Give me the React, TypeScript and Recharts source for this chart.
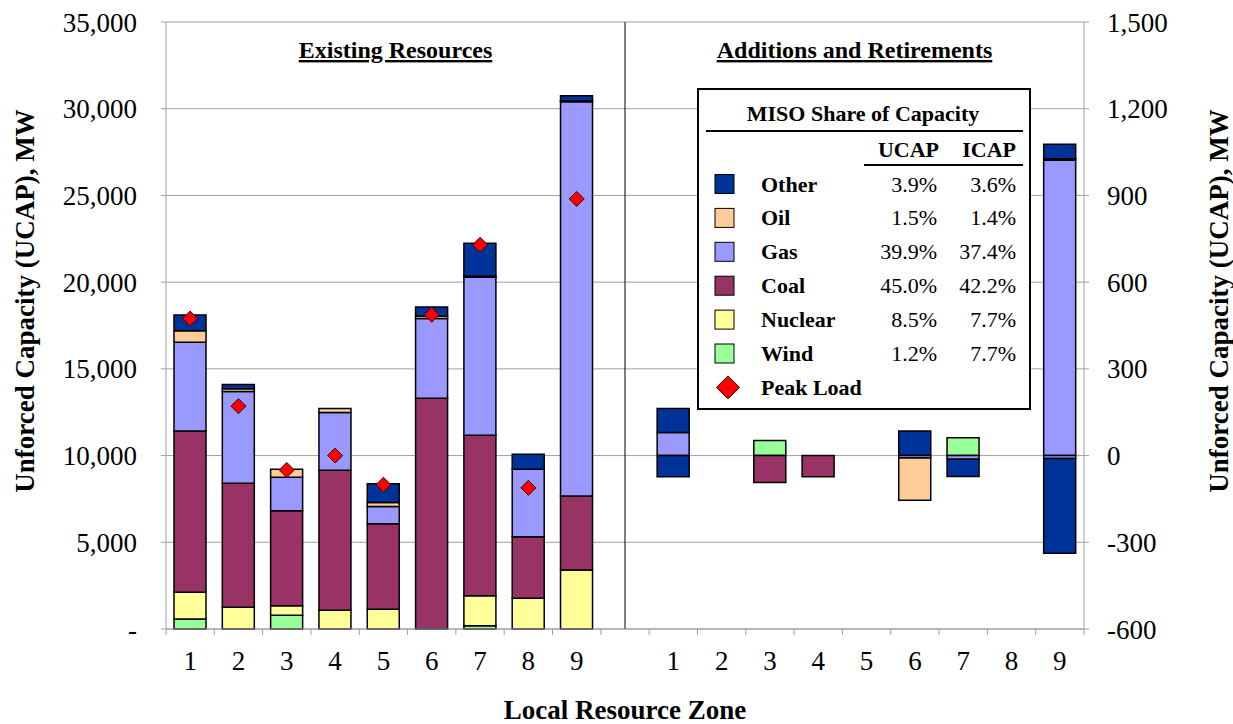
import { ComposedChart, Bar, Line, XAxis, YAxis, CartesianGrid, ReferenceLine, Legend, Label } from 'recharts';

const zoneLabels = ['1', '2', '3', '4', '5', '6', '7', '8', '9'];

// existing resources by zone, MW UCAP (left axis)
const existingWind = [570, 0, 790, 0, 0, 0, 190, 0, 0];
const existingNuclear = [1550, 1250, 550, 1080, 1140, 0, 1730, 1780, 3400];
const existingCoal = [9300, 7150, 5480, 8070, 4930, 13300, 9250, 3540, 4270];
const existingGas = [5110, 5300, 1925, 3340, 1000, 4600, 9110, 3890, 22730];
const existingOil = [670, 150, 465, 230, 230, 150, 60, 0, 60];
const existingOther = [905, 254, 0, 0, 1080, 520, 1900, 870, 290];
const peakLoad = [17900, 12850, 9170, 10000, 8320, 18120, 22150, 8140, 24800];

// additions (+) and retirements (-) by zone, MW (right axis)
const addWind = [0, 0, 52, 0, 0, 0, 62, 0, 0];
const addGas = [80, 0, 0, 0, 0, 0, 0, 0, 1022];
const addOil = [0, 0, 0, 0, 0, 0, 0, 0, 5];
const addOther = [83, 0, 0, 0, 0, 85, 0, 0, 50];
const retCoal = [0, 0, -93, -73, 0, 0, 0, 0, 0];
const retGas = [0, 0, 0, 0, 0, -8, -13, 0, -10];
const retOil = [0, 0, 0, 0, 0, -147, 0, 0, 0];
const retOther = [-73, 0, 0, 0, 0, 0, -59, 0, -328];

const leftTicks = [0, 5000, 10000, 15000, 20000, 25000, 30000, 35000];
const rightTicks = [-600, -300, 0, 300, 600, 900, 1200, 1500];

// legend table
const fuelNames = ['Other', 'Oil', 'Gas', 'Coal', 'Nuclear', 'Wind'];
const ucapShare = ['3.9%', '1.5%', '39.9%', '45.0%', '8.5%', '1.2%'];
const icapShare = ['3.6%', '1.4%', '37.4%', '42.2%', '7.7%', '7.7%'];

const colors: Record<string, string> = {
  Wind: '#99FF99',
  Nuclear: '#FFFF99',
  Coal: '#993366',
  Gas: '#9999FF',
  Oil: '#FFCC99',
  Other: '#003399',
};

const existingSeries = [
  { key: 'wind', fuel: 'Wind', values: existingWind },
  { key: 'nuclear', fuel: 'Nuclear', values: existingNuclear },
  { key: 'coal', fuel: 'Coal', values: existingCoal },
  { key: 'gas', fuel: 'Gas', values: existingGas },
  { key: 'oil', fuel: 'Oil', values: existingOil },
  { key: 'other', fuel: 'Other', values: existingOther },
];

const changeSeries = [
  { key: 'addWind', fuel: 'Wind', values: addWind },
  { key: 'addGas', fuel: 'Gas', values: addGas },
  { key: 'addOil', fuel: 'Oil', values: addOil },
  { key: 'addOther', fuel: 'Other', values: addOther },
  { key: 'retCoal', fuel: 'Coal', values: retCoal },
  { key: 'retGas', fuel: 'Gas', values: retGas },
  { key: 'retOil', fuel: 'Oil', values: retOil },
  { key: 'retOther', fuel: 'Other', values: retOther },
];

function makeRow(key: string, zone: string, ei: number | null, ai: number | null) {
  const row: any = { key, zone, peak: ei === null ? null : peakLoad[ei] };
  existingSeries.forEach((s) => (row[s.key] = ei === null ? 0 : s.values[ei]));
  changeSeries.forEach((s) => (row[s.key] = ai === null ? 0 : s.values[ai]));
  return row;
}

const data = [
  ...zoneLabels.map((z, i) => makeRow('E' + z, z, i, null)),
  makeRow('gap', '', null, null),
  ...zoneLabels.map((z, i) => makeRow('A' + z, z, null, i)),
];

const W = 1233;
const H = 724;
const PLOT_LEFT = 166;
const PLOT_RIGHT = 1084;
const PLOT_TOP = 22;
const PLOT_BOTTOM = 629;
const BAND = (PLOT_RIGHT - PLOT_LEFT) / data.length;
const FONT = '"Liberation Serif", "Times New Roman", serif';
const GRID = '#A0A0A0';

const fmt = (v: number) => v.toLocaleString('en-US');

function ZoneTick(props: any) {
  const { x, y, index } = props;
  const row = data[index];
  return (
    <g>
      <line x1={x - BAND / 2} x2={x - BAND / 2} y1={y - 6} y2={y} stroke={GRID} />
      {index === data.length - 1 && <line x1={x + BAND / 2} x2={x + BAND / 2} y1={y - 6} y2={y} stroke={GRID} />}
      <text x={x} y={y + 35} textAnchor="middle" fontSize={27} fill="#000">
        {row ? row.zone : ''}
      </text>
    </g>
  );
}

function Diamond(props: any) {
  const { cx, cy, index } = props;
  if (cy == null || cx == null) return <g key={index} />;
  const r = 7.5;
  return (
    <polygon
      key={index}
      points={`${cx},${cy - r} ${cx + r},${cy} ${cx},${cy + r} ${cx - r},${cy}`}
      fill="#FF0000"
      stroke="#400000"
      strokeWidth={1}
    />
  );
}

function SectionTitles(props: any) {
  const vb = props.viewBox || {};
  const mid = vb.x ?? 625;
  const top = vb.y ?? PLOT_TOP;
  const style = { fontWeight: 'bold' as const, fontSize: 24, textDecoration: 'underline' };
  return (
    <g>
      <text x={(PLOT_LEFT + mid) / 2} y={top + 36} textAnchor="middle" fill="#000" style={style}>
        Existing Resources
      </text>
      <text x={(mid + PLOT_RIGHT) / 2} y={top + 36} textAnchor="middle" fill="#000" style={style}>
        Additions and Retirements
      </text>
    </g>
  );
}

function axisTitle(x: number) {
  return () => (
    <text
      x={x}
      y={301}
      transform={`rotate(-90, ${x}, 301)`}
      textAnchor="middle"
      fontSize={27}
      fontWeight="bold"
      fill="#000"
    >
      Unforced Capacity (UCAP), MW
    </text>
  );
}

function ShareBox() {
  const rowY = (i: number) => 96 + i * 33.9;
  return (
    <svg width={334} height={322} style={{ fontFamily: FONT, display: 'block' }}>
      <rect x={1} y={1} width={332} height={320} fill="#fff" stroke="#000" strokeWidth={2} />
      <text x={166} y={33} textAnchor="middle" fontSize={22} fontWeight="bold">
        MISO Share of Capacity
      </text>
      <line x1={9} x2={326} y1={43} y2={43} stroke="#000" strokeWidth={2} />
      <text x={242} y={69} textAnchor="end" fontSize={22} fontWeight="bold">UCAP</text>
      <text x={319} y={69} textAnchor="end" fontSize={22} fontWeight="bold">ICAP</text>
      <line x1={167} x2={326} y1={77} y2={77} stroke="#000" strokeWidth={2} />
      {fuelNames.map((f, i) => (
        <g key={f}>
          <rect x={18} y={rowY(i) - 9.5} width={19} height={19} fill={colors[f]} stroke="#000" strokeWidth={1} />
          <text x={64} y={rowY(i) + 7.5} fontSize={22} fontWeight="bold">{f}</text>
          <text x={240} y={rowY(i) + 7.5} fontSize={22} textAnchor="end">{ucapShare[i]}</text>
          <text x={319} y={rowY(i) + 7.5} fontSize={22} textAnchor="end">{icapShare[i]}</text>
        </g>
      ))}
      <polygon
        points={`31,${rowY(6) - 11.5} 42.5,${rowY(6)} 31,${rowY(6) + 11.5} 19.5,${rowY(6)}`}
        fill="#FF0000"
        stroke="#400000"
      />
      <text x={64} y={rowY(6) + 7.5} fontSize={22} fontWeight="bold">Peak Load</text>
    </svg>
  );
}

export default function App() {
  return (
    <div style={{ position: 'absolute', left: 0, top: 0, width: W, height: H, fontFamily: FONT, background: '#fff' }}>
      <ComposedChart
        width={W}
        height={H}
        data={data}
        stackOffset="sign"
        margin={{ top: PLOT_TOP, right: 0, bottom: 0, left: 0 }}
      >
        <CartesianGrid xAxisId="x" yAxisId="l" vertical={false} stroke={GRID} />
        <XAxis
          xAxisId="x"
          dataKey="key"
          height={H - PLOT_BOTTOM}
          stroke={GRID}
          tickLine={false}
          tickSize={6}
          tickMargin={0}
          interval={0}
          tick={(p: any) => <ZoneTick {...p} />}
        >
          <Label
            value="Local Resource Zone"
            position="insideBottom"
            offset={5}
            style={{ fontWeight: 'bold', fontSize: 27, fill: '#000' }}
          />
        </XAxis>
        <XAxis xAxisId="x2" dataKey="key" hide />
        <YAxis
          yAxisId="l"
          domain={[0, 35000]}
          ticks={leftTicks}
          width={PLOT_LEFT}
          stroke={GRID}
          tickSize={5}
          tickMargin={24}
          tick={{ fill: '#000', fontSize: 27 }}
          tickFormatter={(v: number) => (v === 0 ? '-' : fmt(v))}
        >
          <Label content={axisTitle(34)} />
        </YAxis>
        <YAxis
          yAxisId="r"
          orientation="right"
          domain={[-600, 1500]}
          ticks={rightTicks}
          width={W - PLOT_RIGHT}
          stroke={GRID}
          tickSize={5}
          tickMargin={18}
          tick={{ fill: '#000', fontSize: 27 }}
          tickFormatter={fmt}
        >
          <Label content={axisTitle(1228)} />
        </YAxis>
        {existingSeries.map((s) => (
          <Bar
            key={s.key}
            dataKey={s.key}
            name={s.fuel}
            xAxisId="x"
            yAxisId="l"
            stackId="existing"
            fill={colors[s.fuel]}
            stroke="#000"
            strokeWidth={1.5}
            barSize={32}
            isAnimationActive={false}
          />
        ))}
        {changeSeries.map((s) => (
          <Bar
            key={s.key}
            dataKey={s.key}
            name={s.fuel}
            xAxisId="x2"
            yAxisId="r"
            stackId="changes"
            fill={colors[s.fuel]}
            stroke="#000"
            strokeWidth={1.5}
            barSize={32}
            isAnimationActive={false}
          />
        ))}
        <Line
          xAxisId="x"
          yAxisId="l"
          dataKey="peak"
          name="Peak Load"
          stroke="none"
          dot={(p: any) => <Diamond {...p} />}
          activeDot={false}
          isAnimationActive={false}
        />
        <ReferenceLine
          xAxisId="x"
          yAxisId="l"
          x="gap"
          stroke="#000"
          strokeWidth={1}
          label={(p: any) => <SectionTitles {...p} />}
        />
        <Legend
          layout="horizontal"
          verticalAlign="middle"
          wrapperStyle={{ left: 697, top: 88, width: 334, height: 322 }}
          content={() => <ShareBox />}
        />
      </ComposedChart>
    </div>
  );
}
